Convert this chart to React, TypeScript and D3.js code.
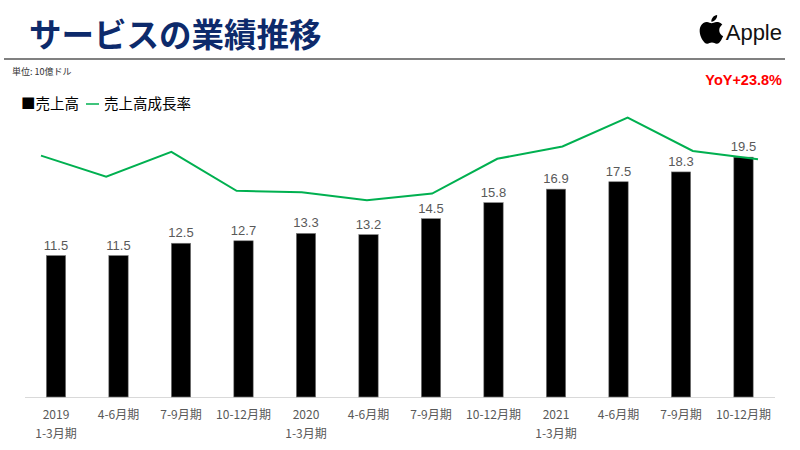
import * as d3 from "d3";

const categories = [
  ["2019", "1-3月期"],
  ["4-6月期"],
  ["7-9月期"],
  ["10-12月期"],
  ["2020", "1-3月期"],
  ["4-6月期"],
  ["7-9月期"],
  ["10-12月期"],
  ["2021", "1-3月期"],
  ["4-6月期"],
  ["7-9月期"],
  ["10-12月期"],
];
const revenue = [11.5, 11.5, 12.5, 12.7, 13.3, 13.2, 14.5, 15.8, 16.9, 17.5, 18.3, 19.5];
const growth = [24.6, 20.0, 25.4, 16.9, 16.6, 14.8, 16.3, 23.9, 26.6, 32.9, 25.6, 23.8];

const GREEN = "#00b050";
const NAVY = "#0d2a6b";
const GRAY = "#595959";
const JP = "'Noto Sans CJK JP', 'Noto Sans', sans-serif";
const NUM = "'Liberation Sans', Arial, sans-serif";

const APPLE_PATH =
  "M12.152 6.896c-.948 0-2.415-1.078-3.96-1.04-2.04.027-3.91 1.183-4.961 3.014-2.117 3.675-.546 9.103 1.519 12.09 1.013 1.454 2.208 3.09 3.792 3.039 1.52-.065 2.09-.987 3.935-.987 1.831 0 2.35.987 3.96.948 1.637-.026 2.676-1.48 3.676-2.948 1.156-1.688 1.636-3.325 1.662-3.415-.039-.013-3.182-1.221-3.22-4.857-.026-3.04 2.48-4.494 2.597-4.559-1.429-2.09-3.623-2.324-4.39-2.376-2-.156-3.675 1.09-4.61 1.09zM15.53 3.83c.843-1.012 1.4-2.427 1.245-3.83-1.207.052-2.662.805-3.532 1.818-.78.896-1.454 2.338-1.273 3.714 1.338.104 2.715-.688 3.559-1.701";

export default function App() {
  const idx = categories.map((_, i) => String(i));

  const x = d3.scaleBand().domain(idx).range([24.75, 774.75]).paddingInner(0.69).paddingOuter(0.345);
  const y = d3.scaleLinear().domain([0, 22]).range([397, 126.4]);

  // growth line sits on its own (slightly wider) horizontal scale
  const x2 = d3.scalePoint().domain(idx).range([41, 758]);
  const y2 = d3.scaleLinear().domain([0, 40]).range([268, 85.2]);

  const line = d3
    .line<number>()
    .x((_, i) => x2(String(i))!)
    .y((d) => y2(d));

  return (
    <svg
      width={800}
      height={450}
      style={{ position: "absolute", left: 0, top: 0, background: "#fff" }}
    >
      {/* header */}
      <text x={29} y={47} fontFamily={JP} fontWeight={700} fontSize={32.5} fill={NAVY}>
        サービスの業績推移
      </text>
      <g transform="translate(697,15) scale(1.2)">
        <path d={APPLE_PATH} fill="#000" />
      </g>
      <text x={782} y={40} textAnchor="end" fontFamily={NUM} fontSize={22} fill="#111">
        Apple
      </text>
      <line x1={4} x2={785} y1={59} y2={59} stroke="#808080" strokeWidth={2} />
      <text x={12} y={75} fontFamily={JP} fontSize={9} fill="#333">
        単位: 10億ドル
      </text>
      <text x={782} y={85} textAnchor="end" fontFamily={NUM} fontWeight={700} fontSize={14.5} fill="#ff0000">
        YoY+23.8%
      </text>

      {/* legend */}
      <text x={21} y={109} fontFamily={JP} fontSize={14.5} fill="#000">
        ■売上高
      </text>
      <line x1={86} x2={99} y1={104} y2={104} stroke={GREEN} strokeWidth={1.5} />
      <text x={104} y={109} fontFamily={JP} fontSize={14.5} fill="#000">
        売上高成長率
      </text>

      {/* axis line */}
      <line x1={25} x2={775} y1={397.5} y2={397.5} stroke="#d9d9d9" strokeWidth={1} />

      {/* bars */}
      {revenue.map((v, i) => (
        <rect
          key={"b" + i}
          x={x(String(i))}
          y={y(v)}
          width={x.bandwidth()}
          height={y(0) - y(v)}
          fill="#000"
          stroke="#7f7f7f"
          strokeWidth={0.6}
        />
      ))}
      {revenue.map((v, i) => (
        <text
          key={"v" + i}
          x={x(String(i))! + x.bandwidth() / 2}
          y={y(v) - 6}
          textAnchor="middle"
          fontFamily={NUM}
          fontSize={13}
          fill={GRAY}
        >
          {v.toFixed(1)}
        </text>
      ))}

      {/* growth line */}
      <path d={line(growth) ?? ""} fill="none" stroke={GREEN} strokeWidth={2} />

      {/* category labels */}
      {categories.map((lines, i) => (
        <text
          key={"c" + i}
          x={x(String(i))! + x.bandwidth() / 2}
          y={419}
          textAnchor="middle"
          fontFamily={JP}
          fontSize={12}
          fill={GRAY}
        >
          {lines.map((t, j) => (
            <tspan key={j} x={x(String(i))! + x.bandwidth() / 2} dy={j === 0 ? 0 : 19}>
              {t}
            </tspan>
          ))}
        </text>
      ))}
    </svg>
  );
}
